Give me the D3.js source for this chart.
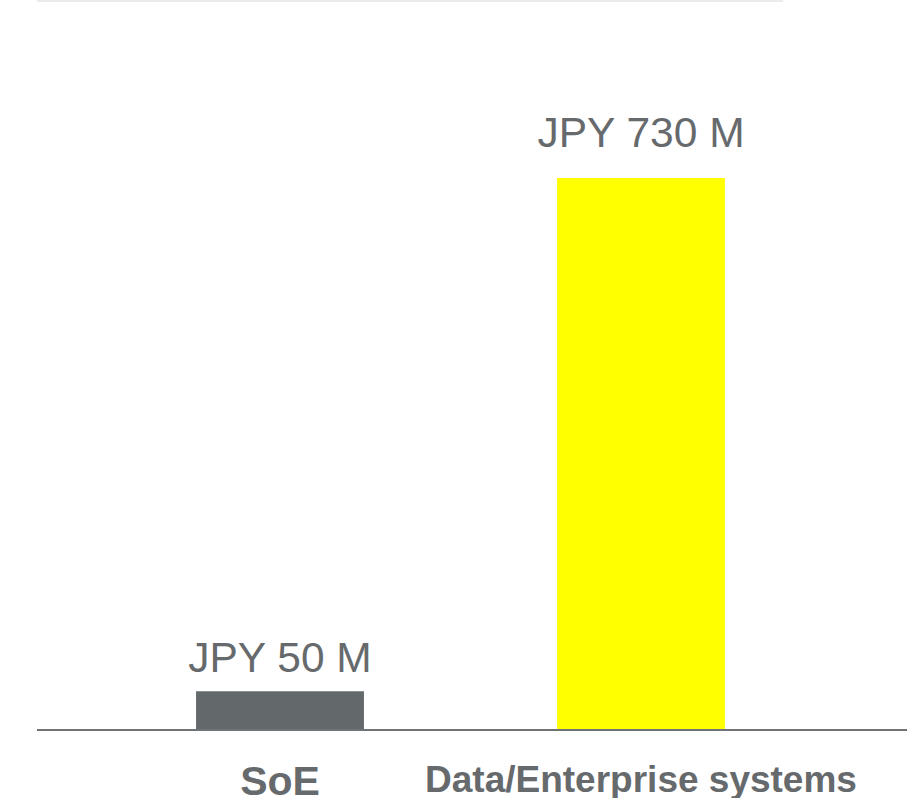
<!DOCTYPE html>
<html>
<head>
<meta charset="utf-8">
<script src="https://cdn.jsdelivr.net/npm/d3@7"></script>
<style>
  body { margin: 0; background: #fff; overflow: hidden; }
  text { font-family: "Liberation Sans", Arial, sans-serif; }
</style>
</head>
<body>
<script>
var categories = ["SoE", "Data/Enterprise systems"];
var values = [50, 730];
var valueLabels = ["JPY 50 M", "JPY 730 M"];
var barColors = ["#63686a", "#ffff00"];

var width = 907, height = 798,
  baseY = 729;

var svg = d3.select("body").append("svg")
  .attr("width", width)
  .attr("height", height);

// thin grey rule at the very top
svg.append("rect")
  .attr("x", 37).attr("y", 0)
  .attr("width", 746).attr("height", 2)
  .style("fill", "#ebebeb");

var x = d3.scaleBand()
  .domain(categories)
  .range([99.5, 821.5])
  .paddingInner(0.535)
  .paddingOuter(0.2675);

var y = d3.scaleLinear()
  .domain([0, 730])
  .range([baseY, 178]);

// labels sit a little higher above the taller bar
var yLabel = d3.scaleLinear()
  .domain([0, 730])
  .range([711, 147]);

svg.selectAll("rect.bar")
  .data(categories)
  .enter().append("rect")
  .attr("class", "bar")
  .attr("x", function (d) { return x(d); })
  .attr("y", function (d, i) { return y(values[i]); })
  .attr("width", x.bandwidth())
  .attr("height", function (d, i) { return y(0) - y(values[i]); })
  .style("fill", function (d, i) { return barColors[i]; });

// value labels above bars
svg.selectAll("text.value")
  .data(categories)
  .enter().append("text")
  .attr("class", "value")
  .attr("x", function (d) { return x(d) + x.bandwidth() / 2; })
  .attr("y", function (d, i) { return yLabel(values[i]); })
  .attr("text-anchor", "middle")
  .style("font-size", "42.5px")
  .style("fill", "#666a6d")
  .text(function (d, i) { return valueLabels[i]; });

// baseline
svg.append("line")
  .attr("x1", 37).attr("x2", width)
  .attr("y1", baseY + 1).attr("y2", baseY + 1)
  .style("stroke", "#707376")
  .style("stroke-width", 2);

// category labels, shrunk to fit a max width, top aligned
var maxW = 432, baseFont = 41;
svg.selectAll("text.cat")
  .data(categories)
  .enter().append("text")
  .attr("class", "cat")
  .attr("x", function (d) { return x(d) + x.bandwidth() / 2; })
  .attr("text-anchor", "middle")
  .style("font-size", baseFont + "px")
  .style("font-weight", "bold")
  .style("fill", "#666a6d")
  .text(function (d) { return d; })
  .each(function () {
    var t = d3.select(this);
    var w = this.getComputedTextLength();
    var fs = w > maxW ? baseFont * maxW / w : baseFont;
    t.style("font-size", fs + "px")
      .attr("y", 766 + 0.716 * fs);
  });
</script>
</body>
</html>
